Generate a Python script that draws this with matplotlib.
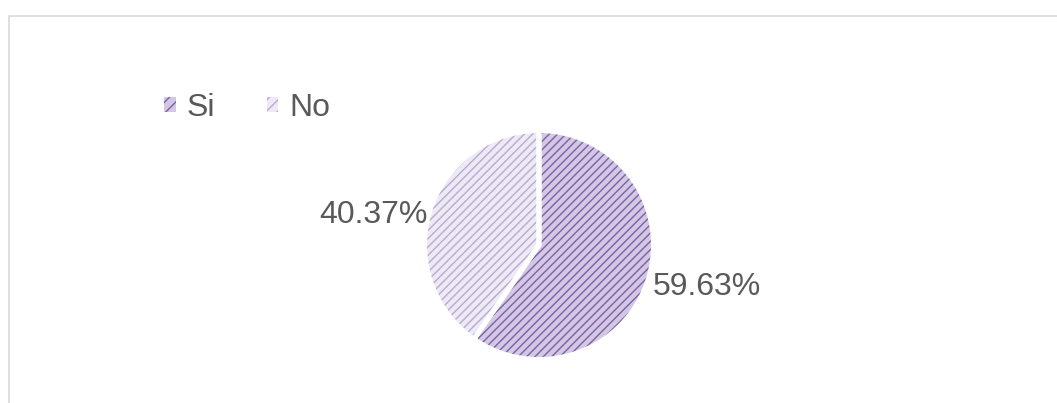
import matplotlib
matplotlib.use("Agg")
import matplotlib.pyplot as plt
from matplotlib.patches import Patch, Rectangle
import numpy as np

categories = ["Si", "No"]
values = [59.63, 40.37]
labels = ["59.63%", "40.37%"]

face_colors = ["#d3c8e4", "#eeeaf5"]
hatch_colors = ["#7b60a6", "#b8a9d2"]
text_color = "#595959"

plt.rcParams['font.family'] = ['Liberation Sans', 'DejaVu Sans']
plt.rcParams['hatch.linewidth'] = 1.0

W, H = 1057, 403
fig = plt.figure(figsize=(W / 100, H / 100), dpi=100)

# outer frame
fig.patches.append(Rectangle((8.5 / W, -0.1), 1.2, (H - 15.5) / H + 0.1,
                             transform=fig.transFigure, fill=False,
                             edgecolor="#d9d9d9", linewidth=1.2))

cx, cy, r = 539, 245, 114.5
ax = fig.add_axes([(cx - r) / W, (H - cy - r) / H, 2 * r / W, 2 * r / H])

wedges, _ = ax.pie(values, startangle=90, counterclock=False, radius=1,
                   colors=face_colors,
                   wedgeprops=dict(linewidth=0))
for w, hc in zip(wedges, hatch_colors):
    w.set_hatch("////")
    w.set_edgecolor(hc)
    w.set_linewidth(0)

ax.pie(values, startangle=90, counterclock=False, radius=1,
       wedgeprops=dict(fill=False, edgecolor="white", linewidth=3.6))

ax.set_xlim(-1, 1)
ax.set_ylim(-1, 1)
ax.set_aspect("auto")
ax.axis("off")

# data labels
label_pos = [(1.47, -0.37), (-1.45, 0.26)]
for lab, (x, y) in zip(labels, label_pos):
    ax.text(x, y, lab, ha="center", va="center", fontsize=23,
            color=text_color, clip_on=False)

handles = [Patch(facecolor=fc, edgecolor=hc, hatch="///", linewidth=0)
           for fc, hc in zip(face_colors, hatch_colors)]
leg = fig.legend(handles, categories, loc="center left",
                 bbox_to_anchor=(164 / W, 1 - 108 / H), ncol=2, frameon=False,
                 fontsize=23, handlelength=0.36, handleheight=0.36,
                 handletextpad=0.36, columnspacing=1.6, borderpad=0,
                 borderaxespad=0)
for t in leg.get_texts():
    t.set_color(text_color)

fig.savefig("out.png", dpi=100, facecolor="white")
